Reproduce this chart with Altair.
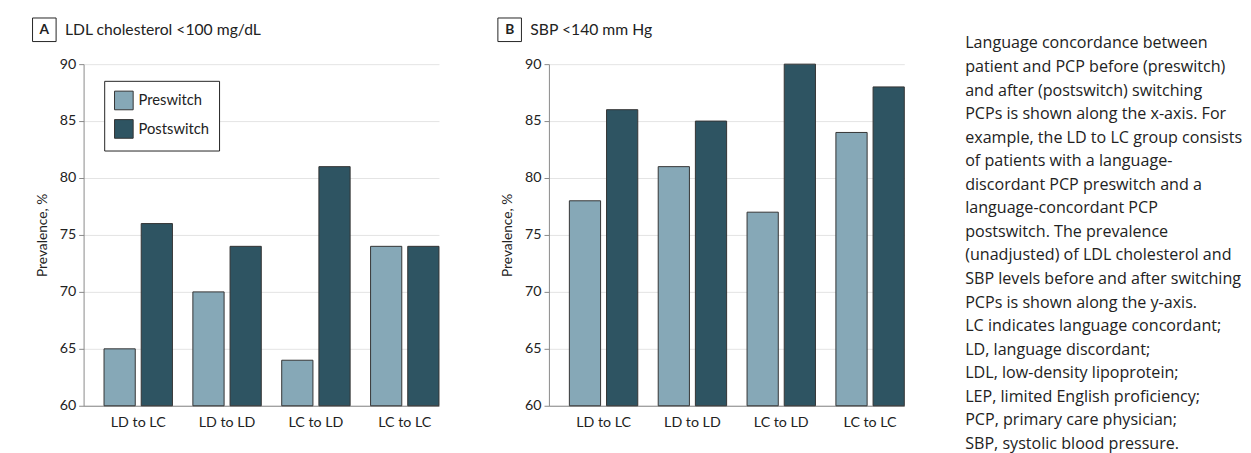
import altair as alt
import pandas as pd

categories = ["LD to LC", "LD to LD", "LC to LD", "LC to LC"]
phases = ["Preswitch", "Postswitch"]
ldl_pre = [65, 70, 64, 74]
ldl_post = [76, 74, 81, 74]
sbp_pre = [78, 81, 77, 84]
sbp_post = [86, 85, 90, 88]
y_ticks = [60, 65, 70, 75, 80, 85, 90]
colors = ["#86a8b7", "#2e5462"]

caption_lines = [
    "Language concordance between",
    "patient and PCP before (preswitch)",
    "and after (postswitch) switching",
    "PCPs is shown along the x-axis. For",
    "example, the LD to LC group consists",
    "of patients with a language-",
    "discordant PCP preswitch and a",
    "language-concordant PCP",
    "postswitch. The prevalence",
    "(unadjusted) of LDL cholesterol and",
    "SBP levels before and after switching",
    "PCPs is shown along the y-axis.",
    "LC indicates language concordant;",
    "LD, language discordant;",
    "LDL, low-density lipoprotein;",
    "LEP, limited English proficiency;",
    "PCP, primary care physician;",
    "SBP, systolic blood pressure.",
]

FONT = "Lato"
CAP_FONT = "Open Sans"
W, H = 362, 348
NOVIEW = alt.ViewBackground(stroke="transparent", strokeWidth=0)


def make_df(pre, post):
    rows = []
    for c, a, b in zip(categories, pre, post):
        rows.append({"group": c, "phase": "Preswitch", "value": a})
        rows.append({"group": c, "phase": "Postswitch", "value": b})
    return pd.DataFrame(rows)


def panel(df, letter, title, show_legend):
    if show_legend:
        leg = alt.Legend(
            title=None, orient="none", legendX=21, legendY=17,
            strokeColor="#222", fillColor="white", padding=10,
            symbolType="square", symbolSize=361, symbolStrokeColor="#333",
            symbolStrokeWidth=1, symbolOpacity=1, labelFontSize=15,
            labelFont=FONT, labelColor="#222", rowPadding=5, labelOffset=5,
        )
    else:
        leg = None
    bars = alt.Chart(df).mark_bar(stroke="#333", strokeWidth=1).encode(
        x=alt.X(
            "group:N", sort=categories,
            scale=alt.Scale(paddingInner=0.23, paddingOuter=0.115, align=1),
            axis=alt.Axis(title=None, ticks=False, labelFontSize=14.5, labelFont=FONT,
                          labelColor="#222", labelPadding=10, domainColor="#888",
                          grid=False, labelAngle=0),
        ),
        xOffset=alt.XOffset("phase:N", sort=phases,
                            scale=alt.Scale(paddingInner=0.16, paddingOuter=0)),
        y=alt.Y(
            "value:Q",
            scale=alt.Scale(domain=[y_ticks[0], y_ticks[-1]], nice=False, zero=False),
            axis=alt.Axis(title="Prevalence, %", values=y_ticks, labelFontSize=14.5,
                          labelFont=FONT, labelColor="#222", titleFont=FONT,
                          titleFontSize=14, titleFontWeight="normal", titleColor="#222",
                          titlePadding=10, domainColor="#888", tickColor="#888",
                          tickSize=5, labelPadding=3, gridColor="#e3e3e3"),
        ),
        y2=alt.datum(y_ticks[0]),
        color=alt.Color("phase:N", sort=phases,
                        scale=alt.Scale(domain=phases, range=colors), legend=leg),
    )
    one = pd.DataFrame({"t": [letter]})
    box = alt.Chart(one).mark_rect(fill="white", stroke="#222", strokeWidth=1).encode(
        x=alt.value(-52), x2=alt.value(-28), y=alt.value(-47), y2=alt.value(-23)
    )
    let = alt.Chart(one).mark_text(
        font=FONT, fontSize=14, fontWeight="bold", color="#222",
        align="center", baseline="middle", text=letter,
    ).encode(x=alt.value(-40), y=alt.value(-35))
    ttl = alt.Chart(one).mark_text(
        font=FONT, fontSize=16, color="#222", align="left", baseline="middle", text=title,
    ).encode(x=alt.value(-19), y=alt.value(-35))
    return alt.layer(bars, box, let, ttl).properties(width=W, height=H, view=NOVIEW)


panel_a = panel(make_df(ldl_pre, ldl_post), "A", "LDL cholesterol <100 mg/dL", True)
panel_b = panel(make_df(sbp_pre, sbp_post), "B", "SBP <140 mm Hg", False)

cap_df = pd.DataFrame({"a": [0]})
anchor = alt.Chart(cap_df).mark_rule(opacity=0).encode(
    x=alt.value(0), y=alt.value(-47), y2=alt.value(-46)
)
caption = alt.Chart(cap_df).mark_text(
    font=CAP_FONT, fontSize=16.4, color="#222", align="left", baseline="top",
    lineHeight=24, text=caption_lines,
).encode(x=alt.value(0), y=alt.value(-29))
text_panel = alt.layer(anchor, caption).properties(width=280, height=H, view=NOVIEW)

chart = alt.hconcat(
    alt.hconcat(panel_a, panel_b, spacing=58).resolve_legend(color="independent"),
    text_panel,
    spacing=61,
).properties(
    padding={"left": 24, "top": 5, "right": 0, "bottom": 0}
).configure_view(strokeWidth=0, stroke="transparent").configure(font=FONT)

chart.save("out.html", embed_options={"renderer": "svg", "actions": False})
